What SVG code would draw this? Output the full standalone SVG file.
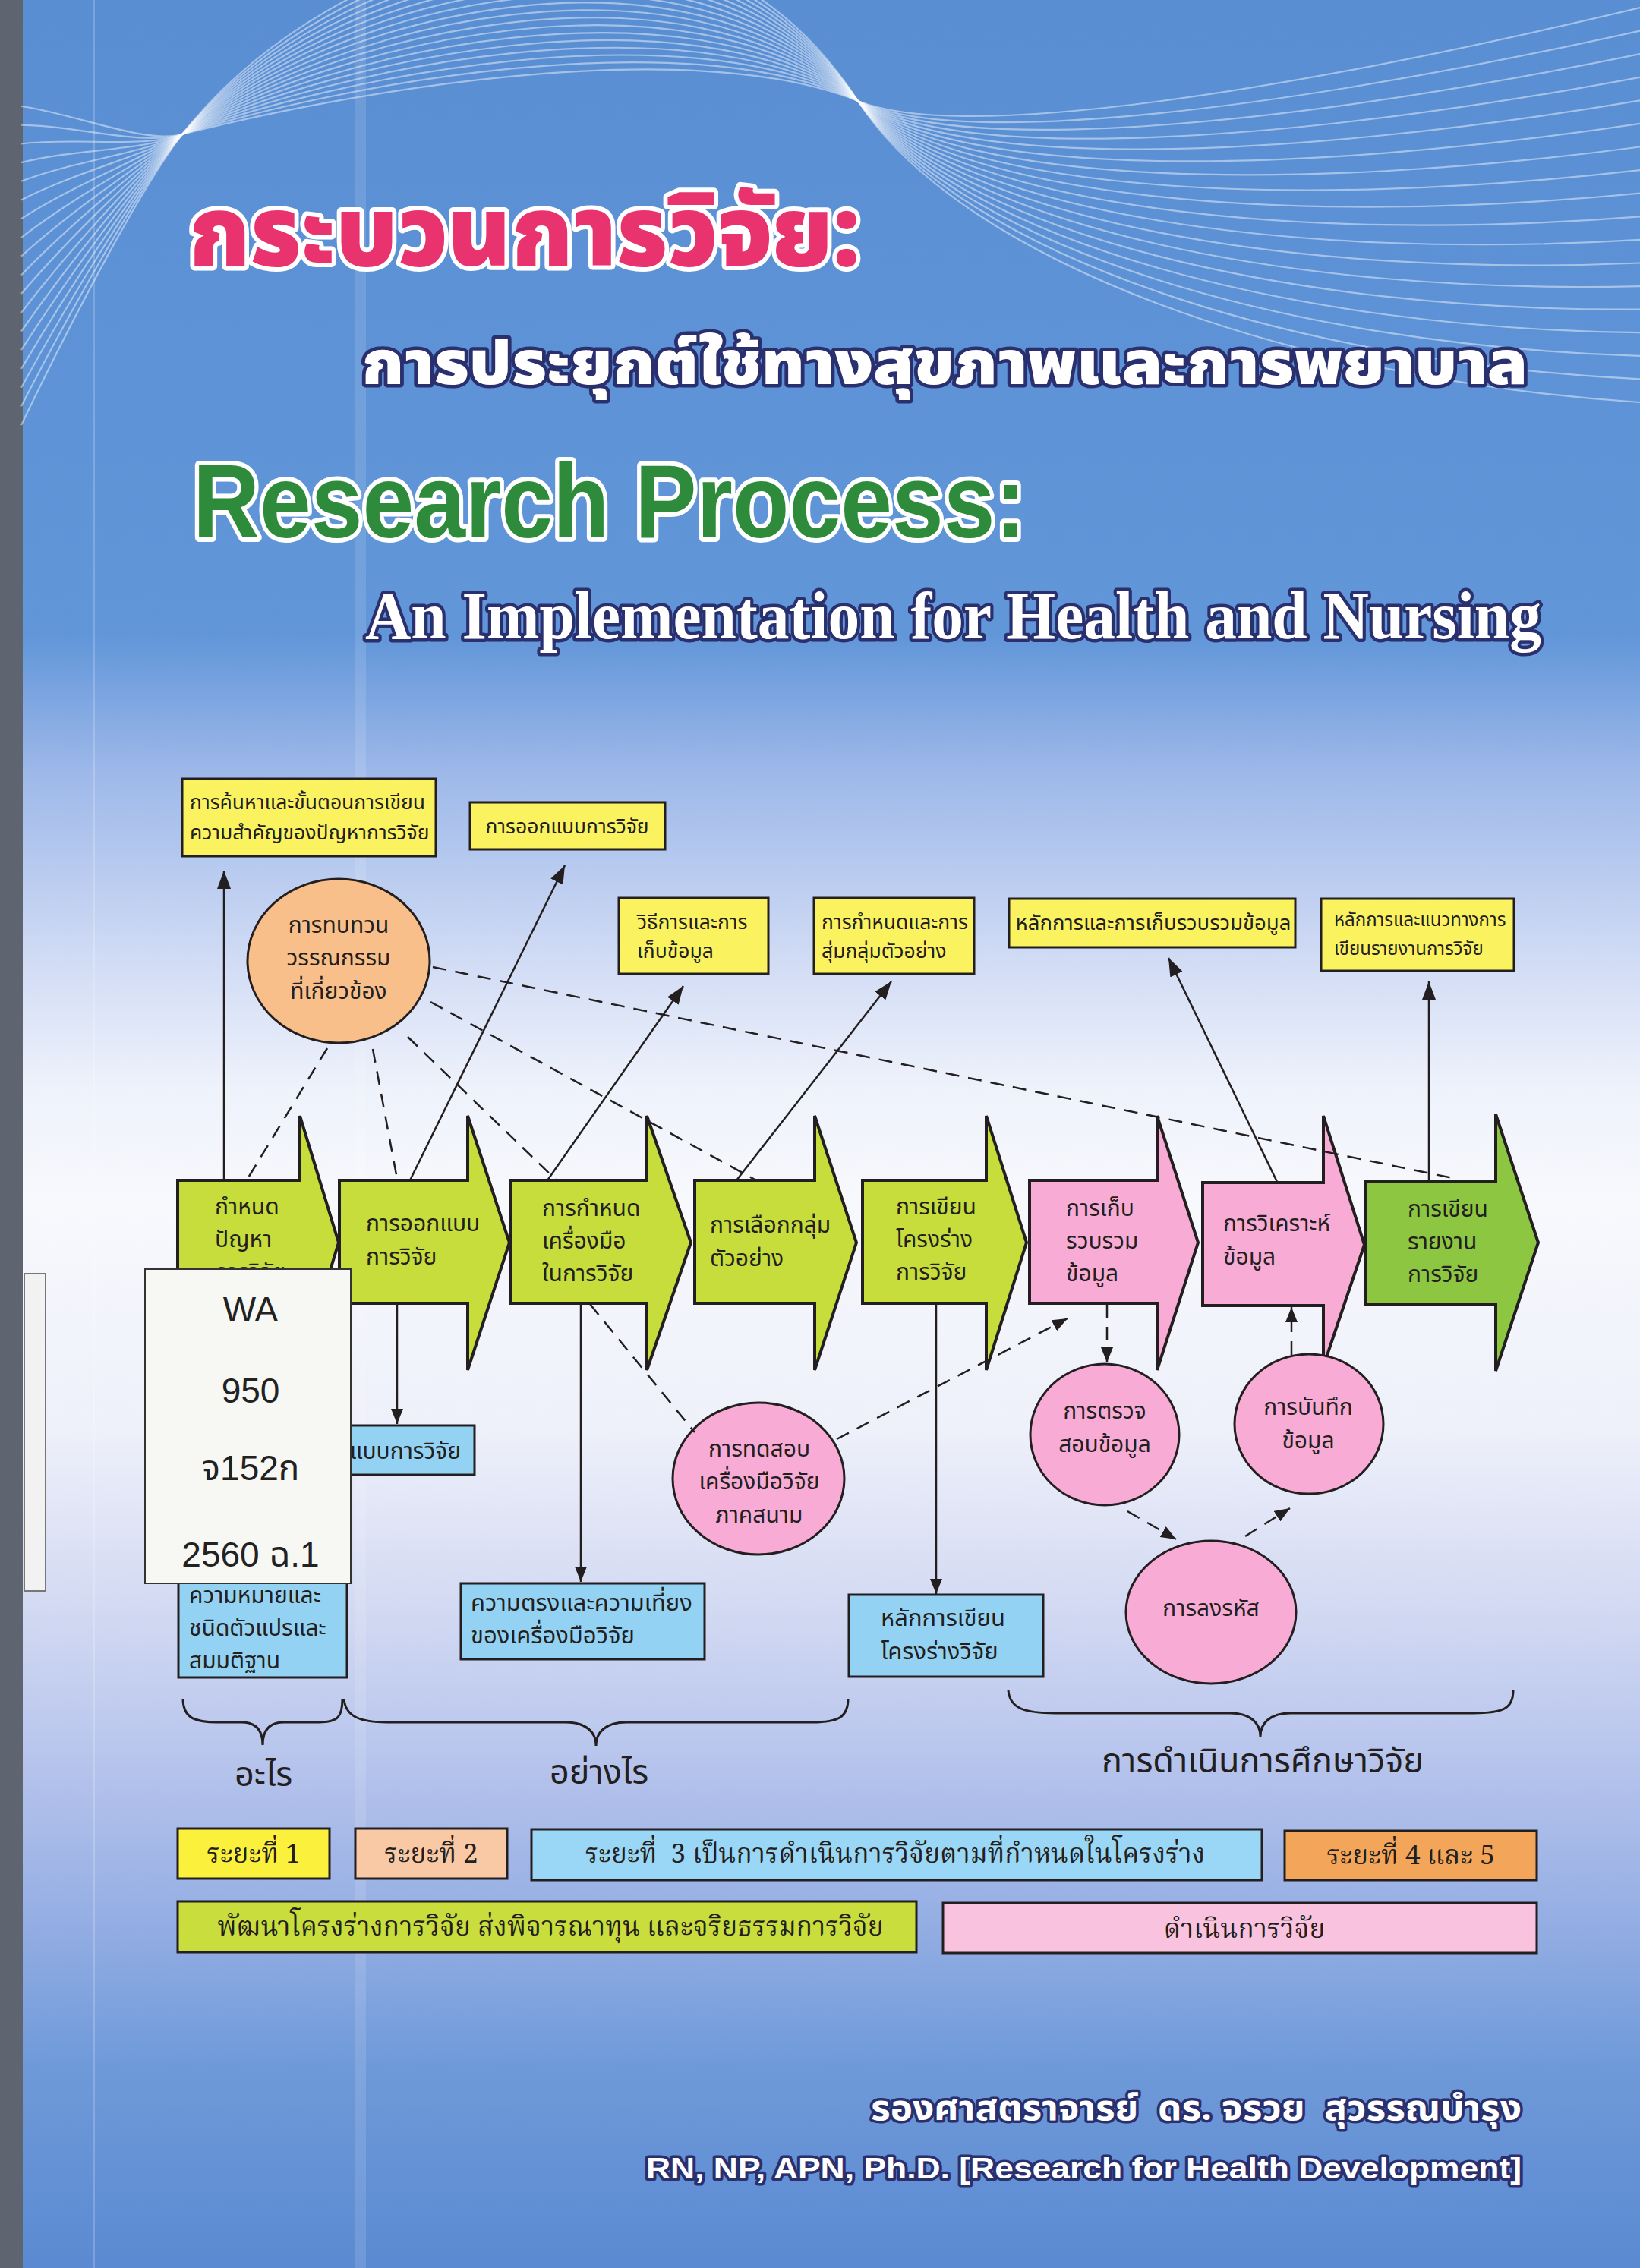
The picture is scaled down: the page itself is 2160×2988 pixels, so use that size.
<svg xmlns="http://www.w3.org/2000/svg" width="2160" height="2988" viewBox="0 0 2160 2988">
<defs>
<linearGradient id="bg" x1="0" y1="0" x2="0" y2="1">
<stop offset="0" stop-color="#5a8ed3"/>
<stop offset="0.28" stop-color="#6196d9"/>
<stop offset="0.34" stop-color="#9db8e9"/>
<stop offset="0.42" stop-color="#cfdaf4"/>
<stop offset="0.48" stop-color="#eef2fb"/>
<stop offset="0.53" stop-color="#f8f9fd"/>
<stop offset="0.63" stop-color="#eef0fa"/>
<stop offset="0.71" stop-color="#d2d9f2"/>
<stop offset="0.78" stop-color="#b5c3ec"/>
<stop offset="0.85" stop-color="#93ade3"/>
<stop offset="0.91" stop-color="#6f9ad9"/>
<stop offset="1" stop-color="#5b8ad2"/>
</linearGradient>
<marker id="ah" markerUnits="userSpaceOnUse" markerWidth="24" markerHeight="18" refX="24" refY="9" orient="auto">
<path d="M0,0 L24,9 L0,18 Z" fill="#231f20"/>
</marker>
<marker id="ahs" markerUnits="userSpaceOnUse" markerWidth="20" markerHeight="16" refX="20" refY="8" orient="auto">
<path d="M0,0 L20,8 L0,16 Z" fill="#231f20"/>
</marker>
</defs>
<style>
.bx{stroke:#231f20;stroke-width:3}
.yl{fill:#fbf25f}
.bl{fill:#93d2f2}
.og{fill:#f9bf8b}
.pk{fill:#f8acd5}
.g1{fill:#c6dd3c}
.g2{fill:#8dc641}
.arw{stroke:#231f20;stroke-width:4;stroke-linejoin:miter}
.t{font-family:'Noto Sans Thai','Noto Sans','Liberation Sans',sans-serif;fill:#231f20}
.s26{font-size:26.5px}
.s30{font-size:30px}
.s45{font-size:45px}
.c{text-anchor:middle}
.lg{font-family:'Noto Serif Thai','Liberation Serif','Noto Sans Thai',serif;font-size:35px;fill:#231f20;text-anchor:middle}
.ln{stroke:#231f20;stroke-width:2.5;fill:none}
.dsh{stroke-dasharray:18 12}
.br{stroke:#231f20;stroke-width:3;fill:none}
.wv{stroke:#ffffff;stroke-width:2.2;fill:none;opacity:0.45}
.stk{font-family:'Liberation Sans','DejaVu Sans','Noto Sans Thai',sans-serif;font-size:46px;fill:#222;text-anchor:middle}
</style>

<g id="background">
<rect x="0" y="0" width="2160" height="2988" fill="url(#bg)"/>
<rect x="468" y="0" width="14" height="2988" fill="#ffffff" opacity="0.12"/>
<rect x="122" y="0" width="3" height="2988" fill="#ffffff" opacity="0.2"/>
<rect x="0" y="0" width="30" height="2988" fill="#5e6470"/>
</g>

<g id="waves">
<path class="wv" d="M28,140 C100,150 190,190 240,177 C440,125 900,40 1130,133 C1268,189 1700,120 2160,10"/>
<path class="wv" d="M28,164.7 C100,165.3 190,192.9 240,177 C440,113.2 900,24.7 1130,133 C1268,198.2 1700,142.3 2160,40.6"/>
<path class="wv" d="M28,189.4 C100,180.6 190,195.9 240,177 C440,101.5 900,9.4 1130,133 C1268,207.3 1700,164.7 2160,71.2"/>
<path class="wv" d="M28,214.1 C100,195.9 190,198.8 240,177 C440,89.7 900,-5.9 1130,133 C1268,216.5 1700,187.1 2160,101.8"/>
<path class="wv" d="M28,238.8 C100,211.2 190,201.8 240,177 C440,77.9 900,-21.2 1130,133 C1268,225.7 1700,209.4 2160,132.4"/>
<path class="wv" d="M28,263.5 C100,226.5 190,204.7 240,177 C440,66.2 900,-36.5 1130,133 C1268,234.9 1700,231.8 2160,162.9"/>
<path class="wv" d="M28,288.2 C100,241.8 190,207.6 240,177 C440,54.4 900,-51.8 1130,133 C1268,244.1 1700,254.1 2160,193.5"/>
<path class="wv" d="M28,313 C100,257.1 190,210.6 240,177 C440,42.6 900,-67.1 1130,133 C1268,253.2 1700,276.5 2160,224.1"/>
<path class="wv" d="M28,337.6 C100,272.4 190,213.5 240,177 C440,30.9 900,-82.4 1130,133 C1268,262.4 1700,298.8 2160,254.7"/>
<path class="wv" d="M28,362.4 C100,287.6 190,216.5 240,177 C440,19.1 900,-97.6 1130,133 C1268,271.6 1700,321.2 2160,285.3"/>
<path class="wv" d="M28,387 C100,302.9 190,219.4 240,177 C440,7.4 900,-112.9 1130,133 C1268,280.8 1700,343.5 2160,315.9"/>
<path class="wv" d="M28,411.8 C100,318.2 190,222.4 240,177 C440,-4.4 900,-128.2 1130,133 C1268,290 1700,365.9 2160,346.5"/>
<path class="wv" d="M28,436.5 C100,333.5 190,225.3 240,177 C440,-16.2 900,-143.5 1130,133 C1268,299.1 1700,388.2 2160,377.1"/>
<path class="wv" d="M28,461.2 C100,348.8 190,228.2 240,177 C440,-27.9 900,-158.8 1130,133 C1268,308.3 1700,410.6 2160,407.6"/>
<path class="wv" d="M28,485.9 C100,364.1 190,231.2 240,177 C440,-39.7 900,-174.1 1130,133 C1268,317.5 1700,432.9 2160,438.2"/>
<path class="wv" d="M28,510.6 C100,379.4 190,234.1 240,177 C440,-51.5 900,-189.4 1130,133 C1268,326.7 1700,455.3 2160,468.8"/>
<path class="wv" d="M28,535.3 C100,394.7 190,237.1 240,177 C440,-63.2 900,-204.7 1130,133 C1268,335.8 1700,477.6 2160,499.4"/>
<path class="wv" d="M28,560 C100,410 190,240 240,177 C440,-75 900,-220 1130,133 C1268,345 1700,500 2160,530"/>
</g>

<g id="title">
<text x="248" y="350" font-family="'Noto Sans Thai','Noto Sans',sans-serif" font-weight="900" font-size="130" textLength="885" lengthAdjust="spacingAndGlyphs" fill="#e8336f" stroke="#ffffff" stroke-width="12" stroke-linejoin="round" paint-order="stroke">กระบวนการวิจัย:</text>
<text x="476" y="506" font-family="'Noto Sans Thai','Noto Sans',sans-serif" font-weight="900" font-size="80" textLength="1536" lengthAdjust="spacingAndGlyphs" fill="#ffffff" stroke="#2a2f6e" stroke-width="9" stroke-linejoin="round" paint-order="stroke">การประยุกต์ใช้ทางสุขภาพและการพยาบาล</text>
<text x="254" y="708" font-family="'Liberation Sans','Noto Sans',sans-serif" font-weight="700" font-size="138" textLength="1097" lengthAdjust="spacingAndGlyphs" fill="#2e8b3c" stroke="#ffffff" stroke-width="12" stroke-linejoin="round" paint-order="stroke">Research Process:</text>
<text x="481" y="841" font-family="'Liberation Serif','Times New Roman',serif" font-weight="700" font-size="89" textLength="1549" lengthAdjust="spacingAndGlyphs" fill="#ffffff" stroke="#2a2f6e" stroke-width="9" stroke-linejoin="round" paint-order="stroke">An Implementation for Health and Nursing</text>
</g>

<g id="box-problem">
<rect class="bx yl" x="240" y="1026" width="334" height="102"/>
<text class="t s26" x="250" y="1066">การค้นหาและขั้นตอนการเขียน</text>
<text class="t s26" x="250" y="1106">ความสำคัญของปัญหาการวิจัย</text>
</g>
<g id="box-design">
<rect class="bx yl" x="619" y="1057" width="257" height="62"/>
<text class="t s26 c" x="747" y="1098">การออกแบบการวิจัย</text>
</g>
<g id="box-method">
<rect class="bx yl" x="815" y="1183" width="197" height="100"/>
<text class="t s26" x="839" y="1224">วิธีการและการ</text>
<text class="t s26" x="839" y="1262">เก็บข้อมูล</text>
</g>
<g id="box-sampling">
<rect class="bx yl" x="1072" y="1183" width="211" height="100"/>
<text class="t s26" x="1082" y="1224">การกำหนดและการ</text>
<text class="t s26" x="1082" y="1262">สุ่มกลุ่มตัวอย่าง</text>
</g>
<g id="box-collect">
<rect class="bx yl" x="1329" y="1184" width="377" height="64"/>
<text class="t c" x="1519" y="1225" font-size="27.5">หลักการและการเก็บรวบรวมข้อมูล</text>
</g>
<g id="box-report">
<rect class="bx yl" x="1740" y="1184" width="254" height="95"/>
<text class="t" x="1757" y="1220" font-size="24">หลักการและแนวทางการ</text>
<text class="t" x="1757" y="1258" font-size="24">เขียนรายงานการวิจัย</text>
</g>

<g id="lit-review">
<ellipse class="bx og" cx="446" cy="1266" rx="120" ry="108"/>
<text class="t s30 c" x="446" y="1229">การทบทวน</text>
<text class="t s30 c" x="446" y="1272">วรรณกรรม</text>
<text class="t s30 c" x="446" y="1316">ที่เกี่ยวข้อง</text>
</g>

<g id="box-vars">
<rect class="bx bl" x="235" y="2080" width="222" height="130"/>
<text class="t s30" x="249" y="2112">ความหมายและ</text>
<text class="t s30" x="249" y="2155">ชนิดตัวแปรและ</text>
<text class="t s30" x="249" y="2198">สมมติฐาน</text>
</g>
<g id="box-designtype">
<rect class="bx bl" x="400" y="1878" width="225" height="65"/>
<text class="t s30" x="607" y="1922" text-anchor="end">แบบการวิจัย</text>
</g>
<g id="box-validity">
<rect class="bx bl" x="607" y="2086" width="321" height="100"/>
<text class="t" x="620" y="2122" font-size="31">ความตรงและความเที่ยง</text>
<text class="t" x="620" y="2165" font-size="31">ของเครื่องมือวิจัย</text>
</g>
<g id="box-proposal">
<rect class="bx bl" x="1118" y="2101" width="256" height="108"/>
<text class="t" x="1160" y="2142" font-size="31">หลักการเขียน</text>
<text class="t" x="1160" y="2186" font-size="31">โครงร่างวิจัย</text>
</g>

<g id="step1">
<path class="arw g1" d="M234,1555 H395 V1470 L446,1637 L395,1805 V1717 H234 Z"/>
<text class="t s30" x="283" y="1600">กำหนด</text>
<text class="t s30" x="283" y="1643">ปัญหา</text>
<text class="t s30" x="283" y="1686">การวิจัย</text>
</g>
<g id="step2">
<path class="arw g1" d="M447,1555 H616 V1470 L671,1637 L616,1805 V1717 H447 Z"/>
<text class="t s30" x="482" y="1622">การออกแบบ</text>
<text class="t s30" x="482" y="1666">การวิจัย</text>
</g>
<g id="step3">
<path class="arw g1" d="M673,1555 H852 V1470 L910,1637 L852,1805 V1717 H673 Z"/>
<text class="t s30" x="714" y="1602">การกำหนด</text>
<text class="t s30" x="714" y="1645">เครื่องมือ</text>
<text class="t s30" x="714" y="1688">ในการวิจัย</text>
</g>
<g id="step4">
<path class="arw g1" d="M915,1555 H1073 V1470 L1128,1637 L1073,1805 V1717 H915 Z"/>
<text class="t s30" x="935" y="1624">การเลือกกลุ่ม</text>
<text class="t s30" x="935" y="1668">ตัวอย่าง</text>
</g>
<g id="step5">
<path class="arw g1" d="M1136,1555 H1299 V1470 L1352,1637 L1299,1805 V1717 H1136 Z"/>
<text class="t s30" x="1180" y="1600">การเขียน</text>
<text class="t s30" x="1180" y="1643">โครงร่าง</text>
<text class="t s30" x="1180" y="1686">การวิจัย</text>
</g>
<g id="step6">
<path class="arw pk" d="M1356,1555 H1524 V1470 L1578,1637 L1524,1805 V1717 H1356 Z"/>
<text class="t s30" x="1404" y="1602">การเก็บ</text>
<text class="t s30" x="1404" y="1645">รวบรวม</text>
<text class="t s30" x="1404" y="1688">ข้อมูล</text>
</g>
<g id="step7">
<path class="arw pk" d="M1584,1558 H1743 V1470 L1797,1640 L1743,1800 V1720 H1584 Z"/>
<text class="t s30" x="1611" y="1622">การวิเคราะห์</text>
<text class="t s30" x="1611" y="1666">ข้อมูล</text>
</g>
<g id="step8">
<path class="arw g2" d="M1799,1557 H1970 V1468 L2026,1637 L1970,1806 V1718 H1799 Z"/>
<text class="t s30" x="1854" y="1603">การเขียน</text>
<text class="t s30" x="1854" y="1646">รายงาน</text>
<text class="t s30" x="1854" y="1689">การวิจัย</text>
</g>

<g id="fieldtest">
<ellipse class="bx pk" cx="999" cy="1948" rx="113" ry="100"/>
<text class="t s30 c" x="1000" y="1919">การทดสอบ</text>
<text class="t s30 c" x="1000" y="1962">เครื่องมือวิจัย</text>
<text class="t s30 c" x="1000" y="2006">ภาคสนาม</text>
</g>
<g id="checkdata">
<ellipse class="bx pk" cx="1455" cy="1890" rx="98" ry="93"/>
<text class="t s30 c" x="1455" y="1869">การตรวจ</text>
<text class="t s30 c" x="1455" y="1913">สอบข้อมูล</text>
</g>
<g id="recorddata">
<ellipse class="bx pk" cx="1724" cy="1876" rx="98" ry="92"/>
<text class="t s30 c" x="1723" y="1864">การบันทึก</text>
<text class="t s30 c" x="1723" y="1908">ข้อมูล</text>
</g>
<g id="coding">
<ellipse class="bx pk" cx="1595" cy="2124" rx="112" ry="94"/>
<text class="t s30 c" x="1595" y="2129">การลงรหัส</text>
</g>

<g id="connectors">
<line class="ln" x1="295" y1="1555" x2="295" y2="1147" marker-end="url(#ah)"/>
<line class="ln" x1="540" y1="1555" x2="744" y2="1140" marker-end="url(#ah)"/>
<line class="ln" x1="721" y1="1555" x2="900" y2="1299" marker-end="url(#ah)"/>
<line class="ln" x1="970" y1="1555" x2="1174" y2="1293" marker-end="url(#ah)"/>
<line class="ln" x1="1683" y1="1559" x2="1539" y2="1262" marker-end="url(#ah)"/>
<line class="ln" x1="1882" y1="1557" x2="1882" y2="1293" marker-end="url(#ah)"/>
<line class="ln" x1="523" y1="1717" x2="523" y2="1876" marker-end="url(#ahs)"/>
<line class="ln" x1="765" y1="1717" x2="765" y2="2084" marker-end="url(#ahs)"/>
<line class="ln" x1="1233" y1="1717" x2="1233" y2="2100" marker-end="url(#ahs)"/>
<line class="ln dsh" x1="431" y1="1381" x2="326" y2="1553"/>
<line class="ln dsh" x1="491" y1="1382" x2="523" y2="1553"/>
<line class="ln dsh" x1="537" y1="1366" x2="733" y2="1555"/>
<line class="ln dsh" x1="567" y1="1320" x2="996" y2="1555"/>
<line class="ln dsh" x1="570" y1="1274" x2="1918" y2="1553"/>
<line class="ln dsh" x1="777" y1="1718" x2="915" y2="1887"/>
<line class="ln dsh" x1="1102" y1="1896" x2="1406" y2="1737" marker-end="url(#ahs)"/>
<line class="ln dsh" x1="1458" y1="1718" x2="1458" y2="1795" marker-end="url(#ahs)"/>
<line class="ln dsh" x1="1485" y1="1991" x2="1549" y2="2028" marker-end="url(#ahs)"/>
<line class="ln dsh" x1="1640" y1="2024" x2="1699" y2="1987" marker-end="url(#ahs)"/>
<line class="ln dsh" x1="1701" y1="1785" x2="1701" y2="1722" marker-end="url(#ahs)"/>
</g>

<g id="brace-what">
<path class="br" d="M241,2238 C241,2262 255,2269 285,2269 L318,2269 C338,2269 346,2280 346,2299 C346,2280 354,2269 374,2269 L420,2269 C445,2269 451,2262 451,2238"/>
<text class="t s45 c" x="347" y="2353">อะไร</text>
</g>
<g id="brace-how">
<path class="br" d="M453,2238 C455,2262 475,2269 510,2269 L745,2269 C772,2269 785,2282 785,2300 C785,2282 798,2269 825,2269 L1070,2269 C1105,2269 1117,2262 1117,2238"/>
<text class="t s45 c" x="789" y="2350">อย่างไร</text>
</g>
<g id="brace-conduct">
<path class="br" d="M1328,2227 C1330,2251 1350,2257 1390,2257 L1620,2257 C1647,2257 1660,2270 1660,2288 C1660,2270 1673,2257 1700,2257 L1940,2257 C1980,2257 1993,2251 1993,2227"/>
<text class="t s45 c" x="1663" y="2335">การดำเนินการศึกษาวิจัย</text>
</g>

<g id="legend">
<rect class="bx" fill="#fbf13d" x="234" y="2409" width="200" height="66"/>
<text class="lg" x="334" y="2454">ระยะที่ 1</text>
<rect class="bx" fill="#f9c8a4" x="468" y="2409" width="200" height="66"/>
<text class="lg" x="568" y="2454">ระยะที่ 2</text>
<rect class="bx" fill="#9ad6f5" x="700" y="2410" width="962" height="67"/>
<text class="lg" x="1179" y="2454" xml:space="preserve">ระยะที่  3 เป็นการดำเนินการวิจัยตามที่กำหนดในโครงร่าง</text>
<rect class="bx" fill="#f3a659" x="1692" y="2412" width="332" height="65"/>
<text class="lg" x="1858" y="2456">ระยะที่ 4 และ 5</text>
<rect class="bx" fill="#c9dd3c" x="234" y="2505" width="973" height="67"/>
<text class="lg" x="725" y="2550">พัฒนาโครงร่างการวิจัย ส่งพิจารณาทุน และจริยธรรมการวิจัย</text>
<rect class="bx" fill="#f9c3e0" x="1242" y="2507" width="782" height="66"/>
<text class="lg" x="1639" y="2553">ดำเนินการวิจัย</text>
</g>

<g id="author">
<text x="2004" y="2793" text-anchor="end" xml:space="preserve" font-family="'Noto Sans Thai','Noto Sans',sans-serif" font-weight="700" font-size="46" textLength="857" lengthAdjust="spacingAndGlyphs" fill="#ffffff" stroke="#2a2f6e" stroke-width="7" stroke-linejoin="round" paint-order="stroke">รองศาสตราจารย์  ดร. จรวย  สุวรรณบำรุง</text>
<text x="2004" y="2870" text-anchor="end" font-family="'Liberation Sans',sans-serif" font-weight="700" font-size="38" textLength="1153" lengthAdjust="spacingAndGlyphs" fill="#ffffff" stroke="#2a2f6e" stroke-width="7" stroke-linejoin="round" paint-order="stroke">RN, NP, APN, Ph.D. [Research for Health Development]</text>
</g>

<g id="library-label">
<rect x="32" y="1678" width="28" height="418" fill="#f2f2f2" stroke="#777" stroke-width="2"/>
<rect x="191" y="1672" width="271" height="414" fill="#f7f7f4" stroke="#333" stroke-width="2"/>
<text class="stk" x="330" y="1741">WA</text>
<text class="stk" x="330" y="1848">950</text>
<text class="stk" x="330" y="1950">จ152ก</text>
<text class="stk" x="330" y="2064" xml:space="preserve">2560 ฉ.1</text>
</g>
</svg>
